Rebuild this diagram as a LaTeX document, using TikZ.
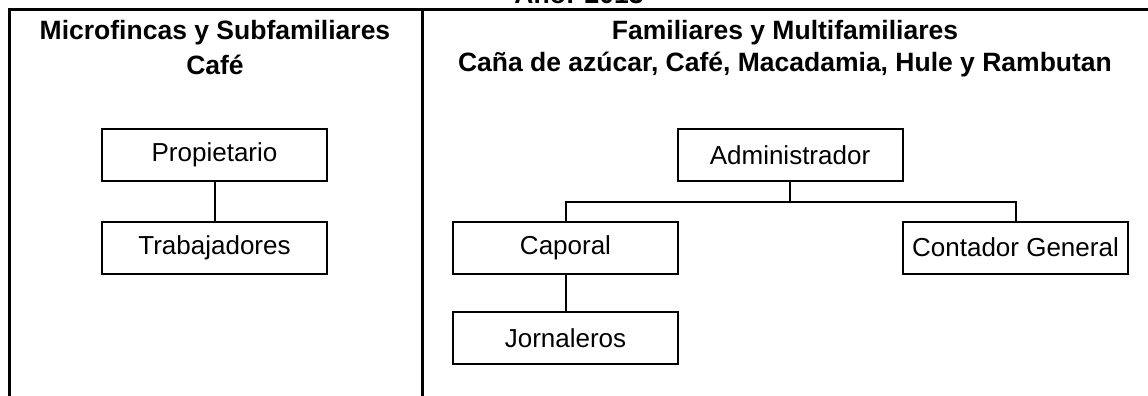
\documentclass[tikz,border=0pt]{standalone}
\usepackage{fontspec}
\setmainfont{Liberation Sans}

\begin{document}
\begin{tikzpicture}[x=1pt, y=-1pt,
    cargo/.style={draw, line width=2pt, minimum width=225pt, minimum height=52pt, inner sep=0pt, font=\fontsize{26}{30}\selectfont},
    encabezado/.style={font=\bfseries\fontsize{26.5}{30}\selectfont, align=center},
    marco/.style={line width=3pt},
    enlace/.style={line width=2pt}]
    \useasboundingbox (0,0) rectangle (1148,396);
    \begin{scope}
        \clip (0,0) rectangle (1148,396);
        \node[encabezado, anchor=base] (anio) at (579,4) {Año: 2013};
    \end{scope}
    \draw[marco] (9,396) -- (9,10) -- (1148,10);
    \draw[marco] (422,10) -- (422,396);

    \node[encabezado] (micro) at (215,33) {Microfincas y Subfamiliares};
    \node[encabezado] (cafe) at (215,65) {Café};
    \node[encabezado] (familiares) at (785,33) {Familiares y Multifamiliares};
    \node[encabezado] (cultivos) at (785,65) {Caña de azúcar, Café, Macadamia, Hule y Rambutan};

    \node[cargo] (propietario) at (214.5,155) {Propietario};
    \node[cargo] (trabajadores) at (214.5,247.5) {Trabajadores};
    \node[cargo] (administrador) at (790,155) {Administrador};
    \node[cargo] (caporal) at (565.5,247.5) {Caporal};
    \node[cargo] (contador) at (1015.5,247.5) {Contador General};
    \node[cargo] (jornaleros) at (565.5,338) {Jornaleros};

    \draw[enlace] (propietario) -- (trabajadores);
    \draw[enlace] (administrador.south) -- ++(0,19.5) -| (caporal.north);
    \draw[enlace] (administrador.south) -- ++(0,19.5) -| (contador.north);
    \draw[enlace] (caporal) -- (jornaleros);
\end{tikzpicture}
\end{document}
